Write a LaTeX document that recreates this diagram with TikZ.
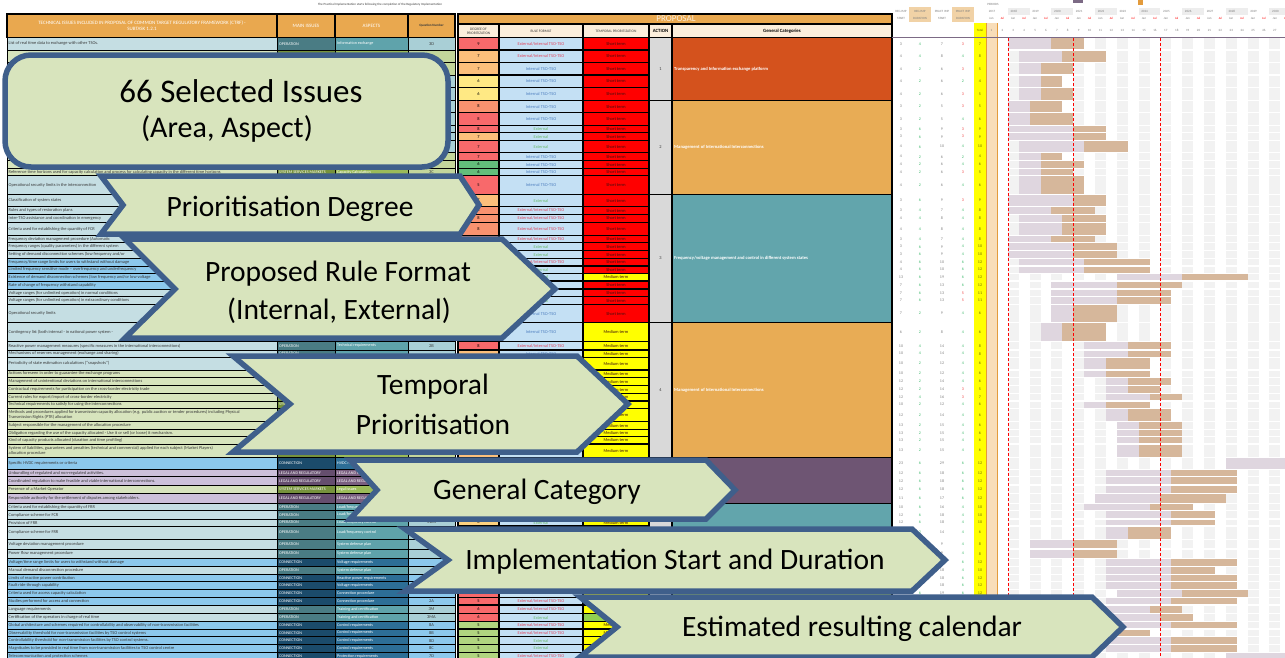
\documentclass[tikz,border=0pt]{standalone}
\usepackage{fontspec}
\setmainfont{Carlito}

% ---------- palette ----------
\definecolor{celltxt}{HTML}{3A3A3A}
\definecolor{txtO}{HTML}{C5DEE3}\definecolor{mainO}{HTML}{4A7C84}\definecolor{aspO}{HTML}{5FA3AB}\definecolor{qO}{HTML}{A9CFD6}
\definecolor{txtS}{HTML}{D7E4BD}\definecolor{mainS}{HTML}{76923C}\definecolor{aspS}{HTML}{9BBB59}\definecolor{qS}{HTML}{C3D69B}
\definecolor{txtC}{HTML}{8CC8EC}\definecolor{mainC}{HTML}{1B4B6B}\definecolor{aspC}{HTML}{2D6E96}\definecolor{qC}{HTML}{8CC8EC}
\definecolor{txtL}{HTML}{CCC0DA}\definecolor{mainL}{HTML}{654E6E}\definecolor{aspL}{HTML}{7A5F80}\definecolor{qL}{HTML}{CCC0DA}
\definecolor{hdrorange}{HTML}{E9A84F}
\definecolor{hdrcream}{HTML}{FBEEDC}
\definecolor{rulebg}{HTML}{C4E0F4}
\definecolor{extcol}{HTML}{E0475F}
\definecolor{intcol}{HTML}{4F7FBF}
\definecolor{xcol}{HTML}{6DBB6D}
\definecolor{shortbg}{HTML}{FF0000}
\definecolor{medbg}{HTML}{FFFF00}
\definecolor{longbg}{HTML}{92D050}
\definecolor{termtxt}{HTML}{3D1010}
\definecolor{actbg}{HTML}{D9D9D9}
\definecolor{catred}{HTML}{D4521D}
\definecolor{catorange}{HTML}{E8AC55}
\definecolor{catteal}{HTML}{62A5AC}
\definecolor{catpurple}{HTML}{6E5573}
\definecolor{catgreen}{HTML}{9BBB59}
\definecolor{gantgrey}{HTML}{F2F2F2}
\definecolor{regcol}{HTML}{DFD6DF}
\definecolor{practcol}{HTML}{D6B79B}
\definecolor{totbg}{HTML}{FFFF00}
\definecolor{col1bg}{HTML}{F8DDB9}
\definecolor{col1line}{HTML}{E39B3C}
\definecolor{hdrline}{HTML}{7C6A85}
\definecolor{numgrey}{HTML}{7F7F7F}
\definecolor{numgreen}{HTML}{3CB96B}
\definecolor{numred}{HTML}{F04040}
\definecolor{totcol}{HTML}{6B6B00}
\definecolor{yearbox}{HTML}{EDEDED}
\definecolor{hdrtan}{HTML}{F1D2A6}
\definecolor{calfill}{HTML}{D8E4BD}
\definecolor{calline}{HTML}{3F5F8B}
\definecolor{dR}{HTML}{F8696B}\definecolor{dS}{HTML}{F9926F}\definecolor{dO}{HTML}{FCBF7B}
\definecolor{dY}{HTML}{FFE984}\definecolor{dG}{HTML}{63BE7B}\definecolor{dL}{HTML}{B1D580}
\definecolor{dP}{HTML}{FDD17F}

% ---------- fonts ----------
\newcommand\cellfont{\fontsize{4.4}{5}\selectfont}
\newcommand\labfont{\fontsize{4.1}{5}\selectfont}
\newcommand\numfont{\fontsize{4}{5}\selectfont}
\newcommand\calfont{\fontsize{29.5}{37}\selectfont}

\newcommand\labO{OPERATION}
\newcommand\labS{SYSTEM SERVICES MARKETS}
\newcommand\labC{CONNECTION}
\newcommand\labL{LEGAL AND REGULATORY}

\newcounter{issue}

\tikzset{
  cellrule/.style={draw=black,line width=0.6pt},
  thickrule/.style={draw=black,line width=1.1pt},
  celltext/.style={font=\cellfont,inner sep=0pt,text=celltxt},
  labtext/.style={font=\labfont,inner sep=0pt,text=white},
  numtext/.style={font=\numfont,inner sep=0pt},
  hdrsmall/.style={font=\fontsize{3.2}{4}\selectfont,inner sep=0pt,text=numgrey},
  hdrtext/.style={font=\fontsize{5}{6}\selectfont,inner sep=0pt,text=white,align=center},
  subhdr/.style={font=\fontsize{3.6}{4.3}\selectfont,inner sep=0pt,text=celltxt,align=center},
  cattext/.style={font=\fontsize{4.6}{5.5}\selectfont\bfseries,inner sep=0pt,text=white},
  gcell/.style={fill=gantgrey},
  regbar/.style={fill=regcol},
  practbar/.style={fill=practcol},
  deadline/.style={draw=red,line width=1pt,dash pattern=on 3pt off 2pt},
  callout/.style={fill=calfill,draw=calline,line width=5.5pt,line join=miter,miter limit=10},
  caltext/.style={font=\calfont,text=black,inner sep=0pt,anchor=base},
}

% rule format and temporal prioritisation cells: #1 top, #2 bottom, #3 rule code, #4 term code
\newcommand\RuleCell[4]{%
  \if E#3\def\rtxt{External/Internal TSO-TSO}\def\rcol{extcol}\fi
  \if I#3\def\rtxt{Internal TSO-TSO}\def\rcol{intcol}\fi
  \if X#3\def\rtxt{External}\def\rcol{xcol}\fi
  \if S#4\def\ttxt{Short term}\def\tcol{shortbg}\fi
  \if M#4\def\ttxt{Medium term}\def\tcol{medbg}\fi
  \if L#4\def\ttxt{}\def\tcol{longbg}\fi
  \filldraw[fill=rulebg,thickrule] (499,#1) rectangle (583,#2);
  \node[celltext,text=\rcol] (rule\theissue) at (541,\rmid) {\rtxt};
  \filldraw[fill=\tcol,thickrule] (583,#1) rectangle (649,#2);
  \node[celltext,text=termtxt] (term\theissue) at (616,\rmid) {\ttxt};
}

% one issue of the table: top, bottom, area kind, text, aspect, question, degree, degree colour, rule+term
\newcommand\IssueRow[9]{%
  \stepcounter{issue}%
  \def\rtop{#1}\def\rbot{#2}%
  \pgfmathsetmacro\rmid{(#1+#2)/2}%
  \filldraw[fill=txt#3,cellrule] (7,#1) rectangle (277,#2);
  \node[celltext,anchor=west,align=left] (text\theissue) at (8.5,\rmid) {#4};
  \filldraw[fill=main#3,cellrule] (277,#1) rectangle (335,#2);
  \node[labtext,anchor=west] (area\theissue) at (279,\rmid) {\csname lab#3\endcsname};
  \filldraw[fill=asp#3,cellrule] (335,#1) rectangle (408,#2);
  \node[labtext,anchor=west] (aspect\theissue) at (337,\rmid) {#5};
  \filldraw[fill=q#3,cellrule] (408,#1) rectangle (455,#2);
  \node[celltext] (quest\theissue) at (431.5,\rmid) {#6};
  \filldraw[fill=#8,thickrule] (458,#1) rectangle (499,#2);
  \node[celltext,text=black] (degree\theissue) at (478.5,\rmid) {#7};
  \RuleCell{#1}{#2}#9%
}

% implementation plan of the current issue: reg start, reg duration, pract start, pract duration
\newcommand\PlanRow[4]{%
  \pgfmathtruncatemacro\ptot{#3+#4-#1}%
  \ifodd#4\relax\def\pdcol{numred}\else\def\pdcol{numgreen}\fi
  \foreach \k in {3,5,...,27}{\fill[gcell] ({986+(\k-1)*10.9},\rtop+0.7) rectangle ({986+\k*10.9},\rbot-0.7);}
  \fill[regbar] ({986+(#1-1)*10.9},\rtop+0.7) rectangle ({986+(#1+#2-1)*10.9},\rbot-0.7);
  \fill[practbar] ({986+(#3-1)*10.9},\rtop+0.7) rectangle ({986+(#3+#4-1)*10.9},\rbot-0.7);
  \node[numtext,text=numgrey] (rs\theissue) at (901,\rmid) {#1};
  \node[numtext,text=numgreen] (rd\theissue) at (920,\rmid) {#2};
  \node[numtext,text=numgrey] (ps\theissue) at (942,\rmid) {#3};
  \node[numtext,text=\pdcol] (pd\theissue) at (963,\rmid) {#4};
  \node[numtext,text=totcol] (tot\theissue) at (980,\rmid) {\ptot};
}

% merged action / general category block: top, bottom, colour, action, label
\newcommand\CatGroup[5]{%
  \filldraw[fill=actbg,thickrule] (649,#1) rectangle (672,#2);
  \node[celltext] (action#4) at (660.5,{(#1+#2)/2}) {#4};
  \filldraw[fill=#3,thickrule] (672,#1) rectangle (892,#2);
  \node[cattext,anchor=west] (cat#4) at (674,{(#1+#2)/2}) {#5};
}

\begin{document}
\begin{tikzpicture}[x=1pt,y=-1pt]
\useasboundingbox (0,0) rectangle (1285,657);
\clip (0,0) rectangle (1285,657);
\fill[white] (0,0) rectangle (1285,657);

% ---------- title and legend marks ----------
\node[hdrsmall,text=celltxt] (title) at (380,5) {The Practical Implementation starts following the completion of the Regulatory Implementation};
\fill[hdrline] (1073,0) rectangle (1083,2.5);
\fill[col1line] (1138,0) rectangle (1143,5);

% ---------- table header ----------
\filldraw[fill=hdrorange,thickrule] (7,14) rectangle (277,37.5);
\node[hdrtext] (hIssues) at (142,25.5) {TECHNICAL ISSUES INCLUDED IN PROPOSAL OF COMMON TARGET REGULATORY FRAMEWORK (CTRF) -\\SUBTASK 1.2.1};
\filldraw[fill=hdrorange,thickrule] (277,14) rectangle (335,37.5);
\node[hdrtext] (hMain) at (306,25.5) {MAIN ISSUES};
\filldraw[fill=hdrorange,thickrule] (335,14) rectangle (408,37.5);
\node[hdrtext] (hAspects) at (371.5,25.5) {ASPECTS};
\filldraw[fill=hdrorange,thickrule] (408,14) rectangle (455,37.5);
\node[subhdr,font=\fontsize{3.3}{4}\selectfont\bfseries] (hQuest) at (431.5,25.5) {Question Number};
\filldraw[fill=hdrorange,thickrule] (458,14) rectangle (892,24);
\node[font=\fontsize{9}{10}\selectfont,text=hdrcream,inner sep=0pt] (hProposal) at (676,19) {PROPOSAL};
\filldraw[fill=hdrcream,thickrule] (458,24) rectangle (499,37.5);
\node[subhdr] (hDegree) at (478.5,31) {DEGREE OF\\PRIORITIZATION};
\filldraw[fill=hdrcream,thickrule] (499,24) rectangle (583,37.5);
\node[subhdr] (hRule) at (541,31) {RULE FORMAT};
\filldraw[fill=hdrcream,thickrule] (583,24) rectangle (649,37.5);
\node[subhdr] (hTerm) at (616,31) {TEMPORAL PRIORITIZATION};
\filldraw[fill=hdrcream,thickrule] (649,24) rectangle (672,37.5);
\node[subhdr,font=\fontsize{4.8}{5.5}\selectfont\bfseries,text=black] (hAction) at (660.5,31) {ACTION};
\filldraw[fill=hdrcream,thickrule] (672,24) rectangle (892,37.5);
\node[subhdr,font=\fontsize{4.8}{5.5}\selectfont\bfseries,text=black] (hCat) at (782,31) {General Categories};

% ---------- calendar header ----------
\node[hdrsmall] (hPeriods) at (993,4.5) {PERIODS};
\node[hdrsmall] (hRS1) at (901,11) {REG IMP};
\node[hdrsmall] (hRS2) at (901,18) {START};
\fill[hdrtan] (909,7) rectangle (931,22);
\node[hdrsmall] (hRD1) at (920,11) {REG IMP};
\node[hdrsmall] (hRD2) at (920,18) {DURATION};
\node[hdrsmall] (hPS1) at (942,11) {PRACT IMP};
\node[hdrsmall] (hPS2) at (942,18) {START};
\fill[hdrtan] (952,7) rectangle (974,22);
\node[hdrsmall] (hPD1) at (963,11) {PRACT IMP};
\node[hdrsmall] (hPD2) at (963,18) {DURATION};
\foreach \yr [count=\yi from 0] in {2017,...,2030}{
  \pgfmathsetmacro\xa{986+2*\yi*10.9}
  \ifodd\yi \fill[yearbox] (\xa,7.5) rectangle ++(21.8,7); \fi
  \node[hdrsmall] (yr\yr) at (\xa+6,11) {\yr};
  \node[hdrsmall] (jan\yr) at (\xa+5.45,18.5) {Jan};
  \node[hdrsmall,text=red] (jul\yr) at (\xa+16.35,18.5) {Jul};
}
\fill[totbg] (974,23) rectangle (986,657);
\fill[col1bg] (986,23) rectangle (997,657);
\draw[col1line,line width=0.9pt] (986,23) -- (986,657) (997,23) -- (997,657);
\node[hdrsmall,text=totcol] (hTotal) at (980,30) {Total};
\foreach \k in {1,...,27}{\node[hdrsmall] (per\k) at ({986+(\k-0.5)*10.9},30) {\k};}

% ---------- issues ----------
\IssueRow{37.5}{50}{O}{List of real time data to exchange with other TSOs.}{Information exchange}{3D}{9}{dR}{ES}\PlanRow{3}{4}{7}{3}
\IssueRow{50}{62.7}{S}{}{}{}{7}{dO}{ES}\PlanRow{4}{4}{8}{4}
\IssueRow{62.7}{75}{S}{}{}{}{7}{dO}{IS}\PlanRow{4}{2}{6}{3}
\IssueRow{75}{87.7}{O}{}{}{}{6}{dY}{IS}\PlanRow{4}{2}{6}{2}
\IssueRow{87.7}{100.3}{O}{}{}{}{6}{dY}{IS}\PlanRow{4}{2}{6}{3}
\IssueRow{100.3}{112.7}{O}{}{}{}{8}{dS}{IS}\PlanRow{3}{2}{5}{3}
\IssueRow{112.7}{125.7}{O}{}{}{}{8}{dR}{IS}\PlanRow{3}{2}{5}{4}
\IssueRow{125.7}{132.7}{O}{}{}{}{8}{dR}{XS}\PlanRow{3}{6}{9}{3}
\IssueRow{132.7}{140.7}{O}{}{}{}{7}{dO}{XS}\PlanRow{3}{6}{9}{3}
\IssueRow{140.7}{152.7}{O}{}{}{}{7}{dR}{XS}\PlanRow{4}{6}{10}{4}
\IssueRow{152.7}{160.7}{S}{}{}{}{7}{dR}{IS}\PlanRow{4}{2}{6}{2}
\IssueRow{160.7}{168.3}{S}{}{}{}{6}{dG}{IS}\PlanRow{4}{2}{6}{4}
\IssueRow{168.3}{175.7}{S}{Reference time horizons used for capacity calculation and process for calculating capacity in the different time horizons}{Capacity Calculation}{3C}{6}{dG}{IS}\PlanRow{4}{2}{6}{3}
\IssueRow{175.7}{194.3}{O}{Operational security limits in the interconnection}{}{}{5}{dR}{IS}\PlanRow{4}{2}{6}{4}
\IssueRow{194.3}{206.7}{O}{Classification of system states}{}{}{7}{dO}{XS}\PlanRow{3}{6}{9}{3}
\IssueRow{206.7}{214.3}{O}{Rules and types of restoration plans}{}{}{8}{dS}{ES}\PlanRow{3}{4}{7}{4}
\IssueRow{214.3}{222.3}{O}{Inter-TSO assistance and coordination in emergency}{}{}{8}{dS}{ES}\PlanRow{4}{4}{8}{4}
\IssueRow{222.3}{235.7}{O}{Criteria used for establishing the quantity of FCR}{}{}{8}{dS}{ES}\PlanRow{4}{4}{8}{4}
\IssueRow{235.7}{242.7}{O}{Frequency deviation management procedure (Automatic}{}{}{}{dS}{ES}\PlanRow{3}{4}{7}{4}
\IssueRow{242.7}{250.7}{O}{Frequency ranges (quality parameters) in the different system}{}{}{}{dO}{XS}\PlanRow{3}{6}{9}{4}
\IssueRow{250.7}{258.3}{O}{Setting of demand disconnection schemes (low frequency and/or}{}{}{}{dO}{XS}\PlanRow{3}{6}{9}{4}
\IssueRow{258.3}{266}{C}{Frequency/time range limits for users to withstand without damage}{}{}{}{dO}{ES}\PlanRow{4}{6}{10}{6}
\IssueRow{266}{273.3}{C}{Limited frequency sensitive mode – overfrequency and underfrequency}{}{}{}{dO}{XS}\PlanRow{4}{6}{10}{6}
\IssueRow{273.3}{281}{C}{Existence of demand disconnection schemes (low frequency and/or low voltage}{}{}{}{dO}{XM}\PlanRow{13}{6}{19}{6}
\IssueRow{281}{289}{C}{Rate of change of frequency withstand capability}{}{}{}{dO}{XS}\PlanRow{7}{6}{13}{6}
\IssueRow{289}{296.7}{O}{Voltage ranges (for unlimited operation) in normal conditions}{}{}{}{dO}{XS}\PlanRow{7}{6}{13}{5}
\IssueRow{296.7}{304.3}{O}{Voltage ranges (for unlimited operation) in extraordinary conditions}{}{}{}{dO}{XS}\PlanRow{7}{6}{13}{5}
\IssueRow{304.3}{322.7}{O}{Operational security limits}{}{}{}{dO}{IS}\PlanRow{7}{2}{9}{4}
\IssueRow{322.7}{341.7}{O}{Contingency list (both internal - in national power system -}{}{}{}{dO}{IM}\PlanRow{6}{2}{8}{4}
\IssueRow{341.7}{350}{O}{Reactive power management measures (specific measures in the international interconnections)}{Technical requirements}{2B}{8}{dR}{EM}\PlanRow{10}{4}{14}{4}
\IssueRow{350}{357.3}{O}{Mechanisms of reserves management (exchange and sharing)}{}{}{}{dO}{IM}\PlanRow{10}{4}{14}{4}
\IssueRow{357.3}{370}{O}{Periodicity of state estimation calculations (“snapshots”)}{}{}{}{dO}{IM}\PlanRow{10}{2}{12}{4}
\IssueRow{370}{377.3}{S}{Actions foreseen in order to guarantee the exchange programs}{}{}{}{dO}{IM}\PlanRow{10}{2}{12}{4}
\IssueRow{377.3}{385.7}{S}{Management of unintentional deviations on international interconnections}{}{}{}{dO}{IM}\PlanRow{12}{2}{14}{4}
\IssueRow{385.7}{393.3}{S}{Contractual requirements for participation on the cross-border electricity trade}{}{}{}{dO}{IM}\PlanRow{12}{2}{14}{3}
\IssueRow{393.3}{401}{S}{Current rules for export/import of cross-border electricity}{}{}{}{dO}{IM}\PlanRow{12}{4}{16}{3}
\IssueRow{401}{408.3}{S}{Technical requirements to satisfy for using the interconnections}{}{}{}{dO}{IM}\PlanRow{10}{2}{12}{4}
\IssueRow{408.3}{421.7}{S}{Methods and procedures applied for transmission capacity allocation (e.g. public auction or tender procedures) including Physical\\Transmission Rights (PTR) allocation}{}{}{}{dO}{IM}\PlanRow{12}{2}{14}{4}
\IssueRow{421.7}{429.3}{S}{Subject responsible for the management of the allocation procedure}{}{}{}{dO}{IM}\PlanRow{13}{2}{15}{4}
\IssueRow{429.3}{436.7}{S}{Obligation regarding the use of the capacity allocated - Use it or sell (or loose) it mechanism.}{}{}{}{dO}{IM}\PlanRow{13}{2}{15}{4}
\IssueRow{436.7}{444}{S}{Kind of capacity products allocated (duration and time profiling)}{}{}{}{dO}{IM}\PlanRow{13}{2}{15}{4}
\IssueRow{444}{457.3}{S}{System of liabilities, guarantees and penalties (technical and commercial) applied for each subject (Market Players)\\allocation procedure}{}{}{}{dO}{IM}\PlanRow{13}{2}{15}{4}
\IssueRow{457.3}{469.3}{C}{Specific HVDC requirements or criteria}{HVDC requirements}{}{}{dO}{XM}\PlanRow{23}{6}{29}{6}
\IssueRow{469.3}{476.7}{L}{Unbundling of regulated and non-regulated activities.}{LEGAL AND REGULATORY}{}{}{dO}{XM}\PlanRow{12}{6}{18}{6}
\IssueRow{476.7}{485}{L}{Coordinated regulation to make feasible and viable international interconnections.}{LEGAL AND REGULATORY}{}{}{dO}{XM}\PlanRow{12}{6}{18}{6}
\IssueRow{485}{493.3}{S}{Presence of a Market Operator}{Legal issues}{}{}{dO}{XM}\PlanRow{12}{6}{18}{6}
\IssueRow{493.3}{503.3}{L}{Responsible authority for the settlement of disputes among stakeholders.}{LEGAL AND REGULATORY}{}{}{dO}{XM}\PlanRow{11}{6}{17}{6}
\IssueRow{503.3}{510.7}{O}{Criteria used for establishing the quantity of FRR}{Load/frequency control}{}{}{dP}{XM}\PlanRow{10}{6}{16}{4}
\IssueRow{510.7}{519}{O}{Compliance scheme for FCR}{Load/frequency control}{}{}{dP}{XM}\PlanRow{12}{6}{18}{4}
\IssueRow{519}{526}{O}{Provision of FRR}{Load/frequency control}{11B1}{6}{dP}{XM}\PlanRow{12}{6}{18}{4}
\IssueRow{526}{539.3}{O}{Compliance scheme for FRR}{Load/frequency control}{}{}{dP}{XM}\PlanRow{12}{2}{14}{4}
\IssueRow{539.3}{549}{O}{Voltage deviation management procedure}{System defense plan}{}{}{dP}{XM}\PlanRow{5}{4}{9}{4}
\IssueRow{549}{558.3}{O}{Power flow management procedure}{System defense plan}{}{}{dP}{XM}\PlanRow{5}{4}{9}{4}
\IssueRow{558.3}{566.7}{C}{Voltage/time range limits for users to withstand without damage}{Voltage requirements}{}{}{dP}{XM}\PlanRow{12}{6}{18}{6}
\IssueRow{566.7}{574.3}{O}{Manual demand disconnection procedure}{System defense plan}{}{}{dP}{XM}\PlanRow{12}{6}{18}{4}
\IssueRow{574.3}{581.7}{C}{Limits of reactive power contribution}{Reactive power requirements}{}{}{dP}{XM}\PlanRow{12}{6}{18}{6}
\IssueRow{581.7}{589.3}{C}{Fault ride through capability}{Voltage requirements}{}{}{dP}{XM}\PlanRow{12}{6}{18}{6}
\IssueRow{589.3}{597.3}{C}{Criteria used for access capacity calculation}{Connection procedure}{2C}{5}{dR}{EM}\PlanRow{13}{6}{19}{6}
\IssueRow{597.3}{605}{C}{Studies performed for access and connection}{Connection procedure}{2A}{5}{dR}{EM}\PlanRow{12}{6}{18}{6}
\IssueRow{605}{613.3}{O}{Language requirements}{Training and certification}{3M}{6}{dR}{EM}\PlanRow{12}{4}{16}{3}
\IssueRow{613.3}{621.7}{O}{Certification of the operators in charge of real time}{Training and certification}{3MA}{6}{dR}{XL}\PlanRow{12}{5}{17}{3}
\IssueRow{621.7}{629}{C}{Global architecture and schemes required for controllability and observability of non-transmission facilities}{Control requirements}{8A}{5}{dL}{EM}\PlanRow{12}{6}{18}{6}
\IssueRow{629}{636.7}{C}{Observability threshold for non-transmission facilities by TSO control systems}{Control requirements}{8B}{5}{dL}{EM}\PlanRow{10}{2}{12}{4}
\IssueRow{636.7}{644.3}{C}{Controllability threshold for non-transmission facilities by TSO control systems.}{Control requirements}{8D}{5}{dL}{XM}\PlanRow{12}{6}{18}{6}
\IssueRow{644.3}{652.3}{C}{Magnitudes to be provided in real time from non-transmission facilities to TSO control centre}{Control requirements}{8C}{5}{dL}{XM}\PlanRow{12}{6}{18}{6}
\IssueRow{652.3}{660}{C}{Telecommunication and protection schemes}{Protection requirements}{7D}{5}{dL}{EM}\PlanRow{23}{6}{29}{6}

% ---------- action groups ----------
\CatGroup{37.5}{100.3}{catred}{1}{Transparency and Information exchange platform}
\CatGroup{100.3}{194.3}{catorange}{2}{Management of International Interconnections}
\CatGroup{194.3}{322.7}{catteal}{3}{Frequency/voltage management and control in different system states}
\CatGroup{322.7}{457.3}{catorange}{4}{Management of International Interconnections}
\CatGroup{457.3}{503.3}{catpurple}{}{}
\filldraw[fill=actbg,thickrule] (649,503.3) rectangle (672,589.3);
\filldraw[fill=catteal,thickrule] (672,503.3) rectangle (892,589.3);
\filldraw[fill=actbg,thickrule] (649,589.3) rectangle (672,660);
\filldraw[fill=catgreen,thickrule] (672,589.3) rectangle (892,660);

% ---------- calendar markers ----------
\draw[hdrline,line width=1.5pt] (892,37.5) -- (1285,37.5);
\draw[deadline] (1008,38) -- (1008,657);
\draw[deadline] (1073.2,38) -- (1073.2,657);
\draw[deadline] (1160.4,38) -- (1160.4,657);

% ---------- callouts ----------
\draw[callout,rounded corners=26pt] (5,55) rectangle (448,167);
\node[caltext,font=\fontsize{33}{37}\selectfont] (calIssues) at (241,102) {66 Selected Issues};
\node[caltext,font=\fontsize{30}{37}\selectfont] (calArea) at (227,137) {(Area, Aspect)};

\draw[callout] (101,176) -- (460,176) -- (479,205) -- (460,234) -- (101,234) -- (123,205) -- cycle;
\node[caltext] (calDegree) at (290,216) {Prioritisation Degree};

\draw[callout] (125,239) -- (502,239) -- (555,289) -- (502,338) -- (125,338) -- (175,289) -- cycle;
\node[caltext] (calRule) at (338,281) {Proposed Rule Format};
\node[caltext] (calRuleKinds) at (339,319) {(Internal, External)};

\draw[callout] (233,356) -- (577,356) -- (628,404) -- (577,452) -- (233,452) -- (290,404) -- cycle;
\node[caltext] (calTemporal) at (433,394) {Temporal};
\node[caltext] (calPrior) at (433,434) {Prioritisation};

\draw[callout] (350,460) -- (706,460) -- (735,490) -- (706,519) -- (350,519) -- (377,490) -- cycle;
\node[caltext] (calCategory) at (537,499) {General Category};

\draw[callout] (405,529) -- (912,529) -- (945,560) -- (912,591) -- (405,591) -- (448,560) -- cycle;
\node[caltext] (calImpl) at (675,569) {Implementation Start and Duration};

\draw[callout] (580,597) -- (1092,597) -- (1123,627) -- (1092,657) -- (580,657) -- (617,627) -- cycle;
\node[caltext] (calCalendar) at (852,636) {Estimated resulting calendar};
\end{tikzpicture}
\end{document}
